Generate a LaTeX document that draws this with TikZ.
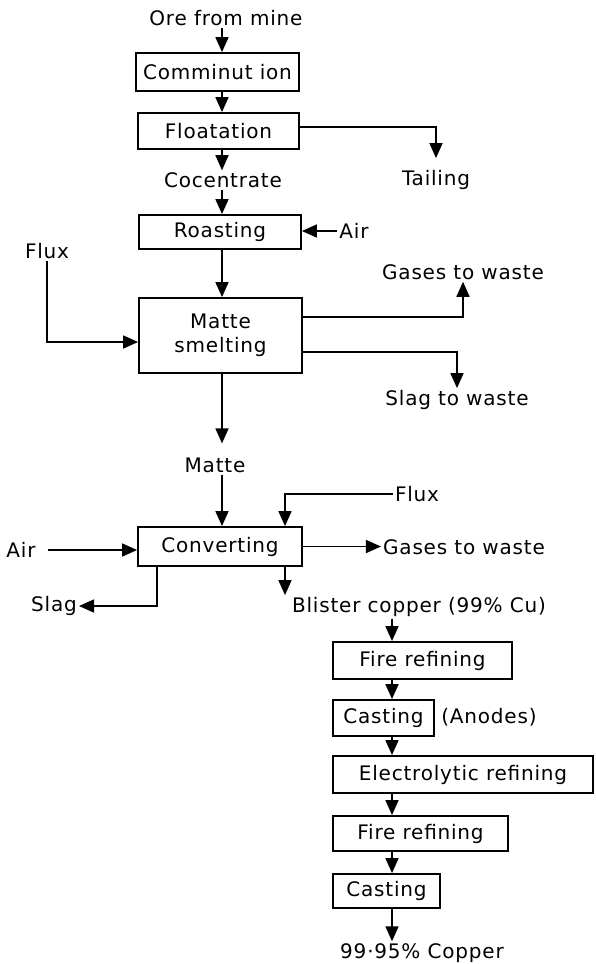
\documentclass[tikz,border=0pt]{standalone}
\usepackage{fontspec}
\setmainfont{DejaVu Sans}[LetterSpace=4]
\usetikzlibrary{arrows.meta,calc}
\tikzset{
  procbox/.style={draw,line width=1.8pt,inner sep=2pt,
    font=\fontsize{20}{24}\selectfont},
  flow/.style={-{Triangle[length=15pt,width=13pt]},line width=1.6pt},
  flowlbl/.style={inner sep=2pt,font=\fontsize{20}{24}\selectfont},
}
\begin{document}
\begin{tikzpicture}[x=1pt,y=-1pt]
  \useasboundingbox (0,0) rectangle (595,964);
  % columns of the flow
  \coordinate (colA) at (222,0);
  \coordinate (colB) at (392,0);
  \coordinate (colC) at (285,0);
  \coordinate (colD) at (157,0);

  % concentration and smelting
  \node[flowlbl] (ore) at (226,18) {Ore from mine};
  \node[procbox,minimum width=163pt,minimum height=38pt] (comm) at (217.5,72) {Comminut ion};
  \node[procbox,minimum width=161pt,minimum height=36pt] (float) at (218.5,131) {Floatation};
  \node[flowlbl] (tailing) at (436,180) {Tailing};
  \node[flowlbl] (cocentr) at (223,180) {Cocentrate};
  \node[procbox,minimum width=162pt,minimum height=34pt] (roast) at (220,232) {Roasting};
  \node[flowlbl] (air1) at (354,231) {Air};
  \node[flowlbl] (flux1) at (47,251) {Flux};
  \node[procbox,minimum width=163pt,minimum height=75pt,align=center] (matte) at (220.5,335.5) {Matte\\smelting};
  \node[flowlbl] (gas1) at (463,272) {Gases to waste};
  \node[flowlbl] (slag1) at (457,400) {Slag to waste};
  \node[flowlbl] (mattelbl) at (215,465) {Matte};

  % converting
  \node[procbox,minimum width=164pt,minimum height=39pt] (conv) at (220,546.5) {Converting};
  \node[flowlbl] (flux2) at (417,494) {Flux};
  \node[flowlbl] (air2) at (21,550) {Air};
  \node[flowlbl] (gas2) at (464,547) {Gases to waste};
  \node[flowlbl] (slag2) at (54,606) {Slag};
  \node[flowlbl] (blister) at (419,607) {Blister copper (99\% Cu)};

  % refining
  \node[procbox,minimum width=179pt,minimum height=37pt] (fire1) at (422.5,660.5) {Fire refining};
  \node[procbox,minimum width=101pt,minimum height=36pt] (cast1) at (383.5,718) {Casting};
  \node[flowlbl] (anodes) at (489,717) {(Anodes)};
  \node[procbox,minimum width=260pt,minimum height=37pt] (elec) at (463,774.5) {Electrolytic refining};
  \node[procbox,minimum width=175pt,minimum height=35pt] (fire2) at (420.5,833.5) {Fire refining};
  \node[procbox,minimum width=107pt,minimum height=34pt] (cast2) at (386.5,891) {Casting};
  \node[flowlbl] (product) at (422,953) {99·95\% Copper};

  % connectors
  \draw[flow] (colA |- ore.south) -- (colA |- comm.north);
  \draw[flow] (colA |- comm.south) -- (colA |- float.north);
  \draw[flow] ([yshift=4pt]float.east) -| ([yshift=10pt]tailing.north);
  \draw[flow] (colA |- float.south) -- (colA |- cocentr.north);
  \draw[flow] (colA |- cocentr.south) -- (colA |- roast.north);
  \draw[flow] (air1.west) -- (roast.east |- air1.west);
  \draw[flow] (flux1.south) |- ([yshift=-6.5pt]matte.west);
  \draw[flow] (colA |- roast.south) -- (colA |- matte.north);
  \draw[flow] ([yshift=18.5pt]matte.east) -| (gas1.south);
  \draw[flow] ([yshift=-16.5pt]matte.east) -| (slag1.north);
  \draw[flow] (colA |- matte.south) -- ([yshift=12pt]colA |- mattelbl.north);
  \draw[flow] (colA |- mattelbl.south) -- (colA |- conv.north);
  \draw[flow] (flux2.west) -| (colC |- conv.north);
  \draw[flow] ([xshift=10pt]air2.east) -- (conv.west |- air2.east);
  \draw[flow] (conv.east) -- (gas2.west |- conv.east);
  \draw[flow] (colD |- conv.south) |- (slag2.east);
  \draw[flow] (colC |- conv.south) -- (colC |- blister.north);
  \draw[flow] (colB |- blister.south) -- (colB |- fire1.north);
  \draw[flow] (colB |- fire1.south) -- (colB |- cast1.north);
  \draw[flow] (colB |- cast1.south) -- (colB |- elec.north);
  \draw[flow] (colB |- elec.south) -- (colB |- fire2.north);
  \draw[flow] (colB |- fire2.south) -- (colB |- cast2.north);
  \draw[flow] (colB |- cast2.south) -- (colB |- product.north);
\end{tikzpicture}
\end{document}
